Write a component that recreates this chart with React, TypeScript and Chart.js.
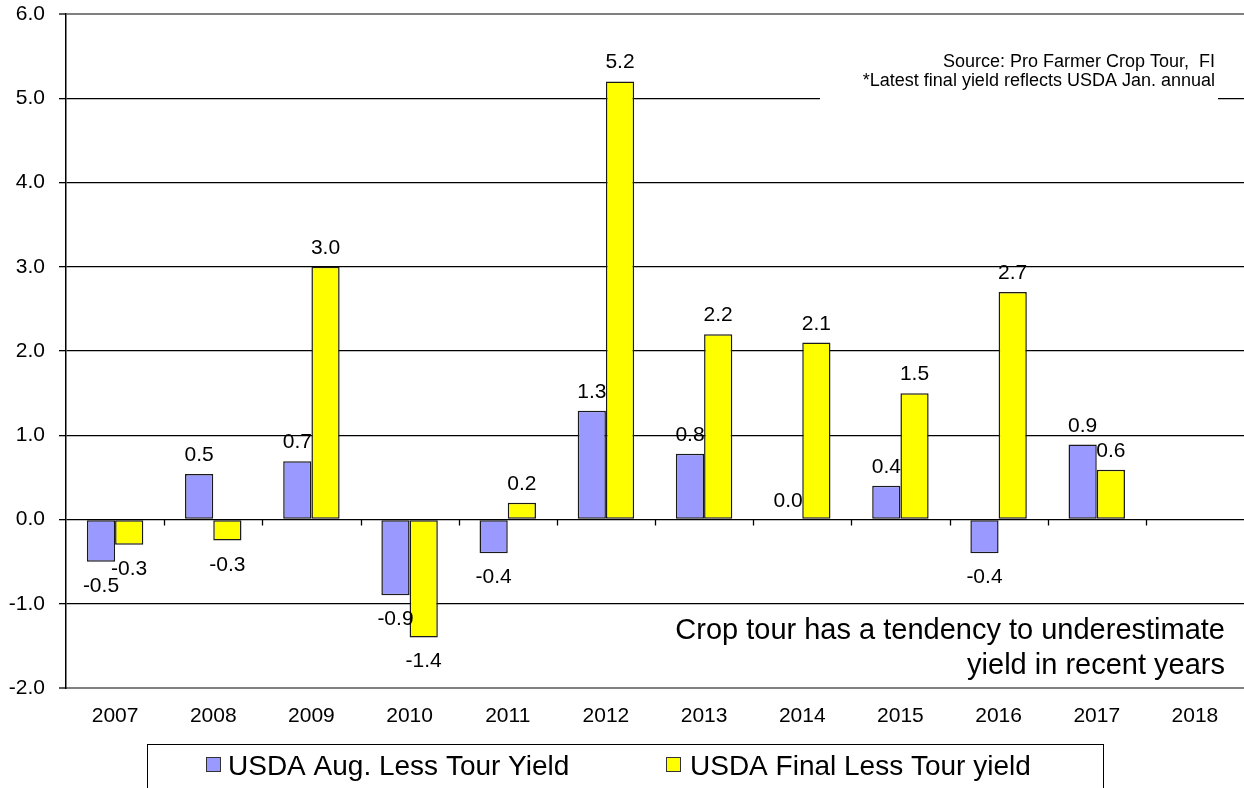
import React, { useEffect, useRef } from "react";
import { Chart, registerables } from "chart.js";

Chart.register(...registerables);

const categories = ["2007", "2008", "2009", "2010", "2011", "2012", "2013", "2014", "2015", "2016", "2017", "2018"];
const augValues = [-0.5, 0.54, 0.69, -0.9, -0.4, 1.29, 0.78, 0.0, 0.4, -0.4, 0.89, null];
const finalValues = [-0.3, -0.25, 3.0, -1.4, 0.2, 5.2, 2.2, 2.1, 1.5, 2.7, 0.59, null];
const augLabels = ["-0.5", "0.5", "0.7", "-0.9", "-0.4", "1.3", "0.8", "0.0", "0.4", "-0.4", "0.9", null];
const finalLabels = ["-0.3", "-0.3", "3.0", "-1.4", "0.2", "5.2", "2.2", "2.1", "1.5", "2.7", "0.6", null];
const seriesNames = ["USDA Aug. Less Tour Yield", "USDA Final Less Tour yield"];
const seriesColors = ["#9999FF", "#FFFF00"];
const sourceLines = ["Source: Pro Farmer Crop Tour,  FI", "*Latest final yield reflects USDA Jan. annual"];
const noteLines = ["Crop tour has a tendency to underestimate", "yield in recent years"];

const FONT = '"Liberation Sans", Arial, sans-serif';

export default function App() {
  const ref = useRef<HTMLCanvasElement | null>(null);

  useEffect(() => {
    const canvas = ref.current;
    if (!canvas) return;

    const drawLabels = (chart: any, dsIndex: number, labels: (string | null)[], which: "pos" | "neg" | "all") => {
      const ctx = chart.ctx;
      const meta = chart.getDatasetMeta(dsIndex);
      const data = chart.data.datasets[dsIndex].data;
      ctx.save();
      ctx.font = `21px ${FONT}`;
      ctx.fillStyle = "#000";
      ctx.textAlign = "center";
      ctx.textBaseline = "alphabetic";
      meta.data.forEach((el: any, i: number) => {
        const v = data[i];
        const lab = labels[i];
        if (v === null || v === undefined || !lab) return;
        if (v >= 0) {
          if (which !== "neg") ctx.fillText(lab, el.x, el.y - 13);
        } else {
          if (which !== "pos") ctx.fillText(lab, el.x, el.y + 30);
        }
      });
      ctx.restore();
    };

    const extras = {
      id: "extras",
      beforeDatasetsDraw(chart: any) {
        const ctx = chart.ctx;
        const area = chart.chartArea;
        const yS = chart.scales.y;
        const y0 = yS.getPixelForValue(0);
        const n = categories.length;
        const w = (area.right - area.left) / n;
        ctx.save();
        ctx.strokeStyle = "#000";
        ctx.lineWidth = 1.3;
        for (let k = 1; k < n; k++) {
          const x = Math.round(area.left + k * w) + 0.5;
          ctx.beginPath();
          ctx.moveTo(x, y0);
          ctx.lineTo(x, y0 + 6);
          ctx.stroke();
        }
        // source box
        ctx.fillStyle = "#fff";
        ctx.fillRect(820, 40, 398, 64);
        ctx.fillStyle = "#000";
        ctx.font = `18px ${FONT}`;
        ctx.textAlign = "right";
        ctx.textBaseline = "alphabetic";
        ctx.fillText(sourceLines[0], 1215, 67);
        ctx.fillText(sourceLines[1], 1215, 86);
        // note
        ctx.font = `29px ${FONT}`;
        ctx.fillText(noteLines[0], 1225, 639);
        ctx.fillText(noteLines[1], 1225, 674);
        ctx.restore();
        drawLabels(chart, 0, augLabels, "pos");
      },
      afterDatasetsDraw(chart: any) {
        drawLabels(chart, 0, augLabels, "neg");
        drawLabels(chart, 1, finalLabels, "all");
      },
      afterDraw(chart: any) {
        const ctx = chart.ctx;
        ctx.save();
        ctx.strokeStyle = "#000";
        ctx.lineWidth = 1;
        ctx.strokeRect(147.5, 744.5, 956, 60);
        ctx.font = `28px ${FONT}`;
        ctx.textAlign = "left";
        ctx.textBaseline = "alphabetic";
        const items = [
          { mx: 206, tx: 228 },
          { mx: 666, tx: 690 },
        ];
        items.forEach((it, i) => {
          ctx.fillStyle = seriesColors[i];
          ctx.fillRect(it.mx, 757, 14, 14);
          ctx.strokeStyle = "#333";
          ctx.strokeRect(it.mx + 0.5, 757.5, 14, 14);
          ctx.fillStyle = "#000";
          ctx.fillText(seriesNames[i], it.tx, 775);
        });
        ctx.restore();
      },
    };

    const chart = new Chart(canvas, {
      type: "bar",
      data: {
        labels: categories,
        datasets: [
          {
            label: seriesNames[0],
            data: augValues as any,
            backgroundColor: seriesColors[0],
            borderColor: "#1a1a1a",
            borderWidth: 1.5,
            borderSkipped: false,
            categoryPercentage: 0.575,
            barPercentage: 1.0,
          },
          {
            label: seriesNames[1],
            data: finalValues as any,
            backgroundColor: seriesColors[1],
            borderColor: "#1a1a1a",
            borderWidth: 1.5,
            borderSkipped: false,
            categoryPercentage: 0.575,
            barPercentage: 1.0,
          },
        ],
      },
      options: {
        responsive: false,
        animation: false,
        devicePixelRatio: 1,
        layout: { padding: { top: 14, left: 0, right: 0, bottom: 0 } },
        plugins: {
          legend: { display: false },
          tooltip: { enabled: false },
          title: { display: false },
        },
        scales: {
          x: {
            grid: { display: false, drawTicks: false },
            border: { display: true, color: "#808080", width: 2 },
            ticks: {
              color: "#000",
              font: { family: FONT, size: 21 },
              padding: 16,
              maxRotation: 0,
              autoSkip: false,
            },
            afterFit: (s: any) => {
              s.height = 100;
              s.paddingLeft = 0;
              s.paddingRight = 0;
            },
          },
          y: {
            min: -2,
            max: 6,
            grid: {
              color: (c: any) => (c.tick && (c.tick.value === 6 || c.tick.value === -2) ? "#808080" : "#000"),
              lineWidth: (c: any) => (c.tick && (c.tick.value === 6 || c.tick.value === -2) ? 2 : 1.3),
              drawTicks: true,
              tickLength: 7,
              tickColor: "#000",
              tickWidth: 1.3,
            },
            border: { display: true, color: "#000", width: 1.5 },
            ticks: {
              stepSize: 1,
              color: "#000",
              font: { family: FONT, size: 21 },
              padding: 14,
              callback: (v: any) => Number(v).toFixed(1),
            },
            afterFit: (s: any) => {
              s.width = 66;
              s.paddingTop = 0;
              s.paddingBottom = 0;
            },
          },
        },
      },
      plugins: [extras],
    });

    return () => chart.destroy();
  }, []);

  return (
    <div style={{ position: "absolute", left: 0, top: 0, width: 1244, height: 788, background: "#fff" }}>
      <canvas ref={ref} width={1244} height={788} style={{ display: "block" }} />
    </div>
  );
}
